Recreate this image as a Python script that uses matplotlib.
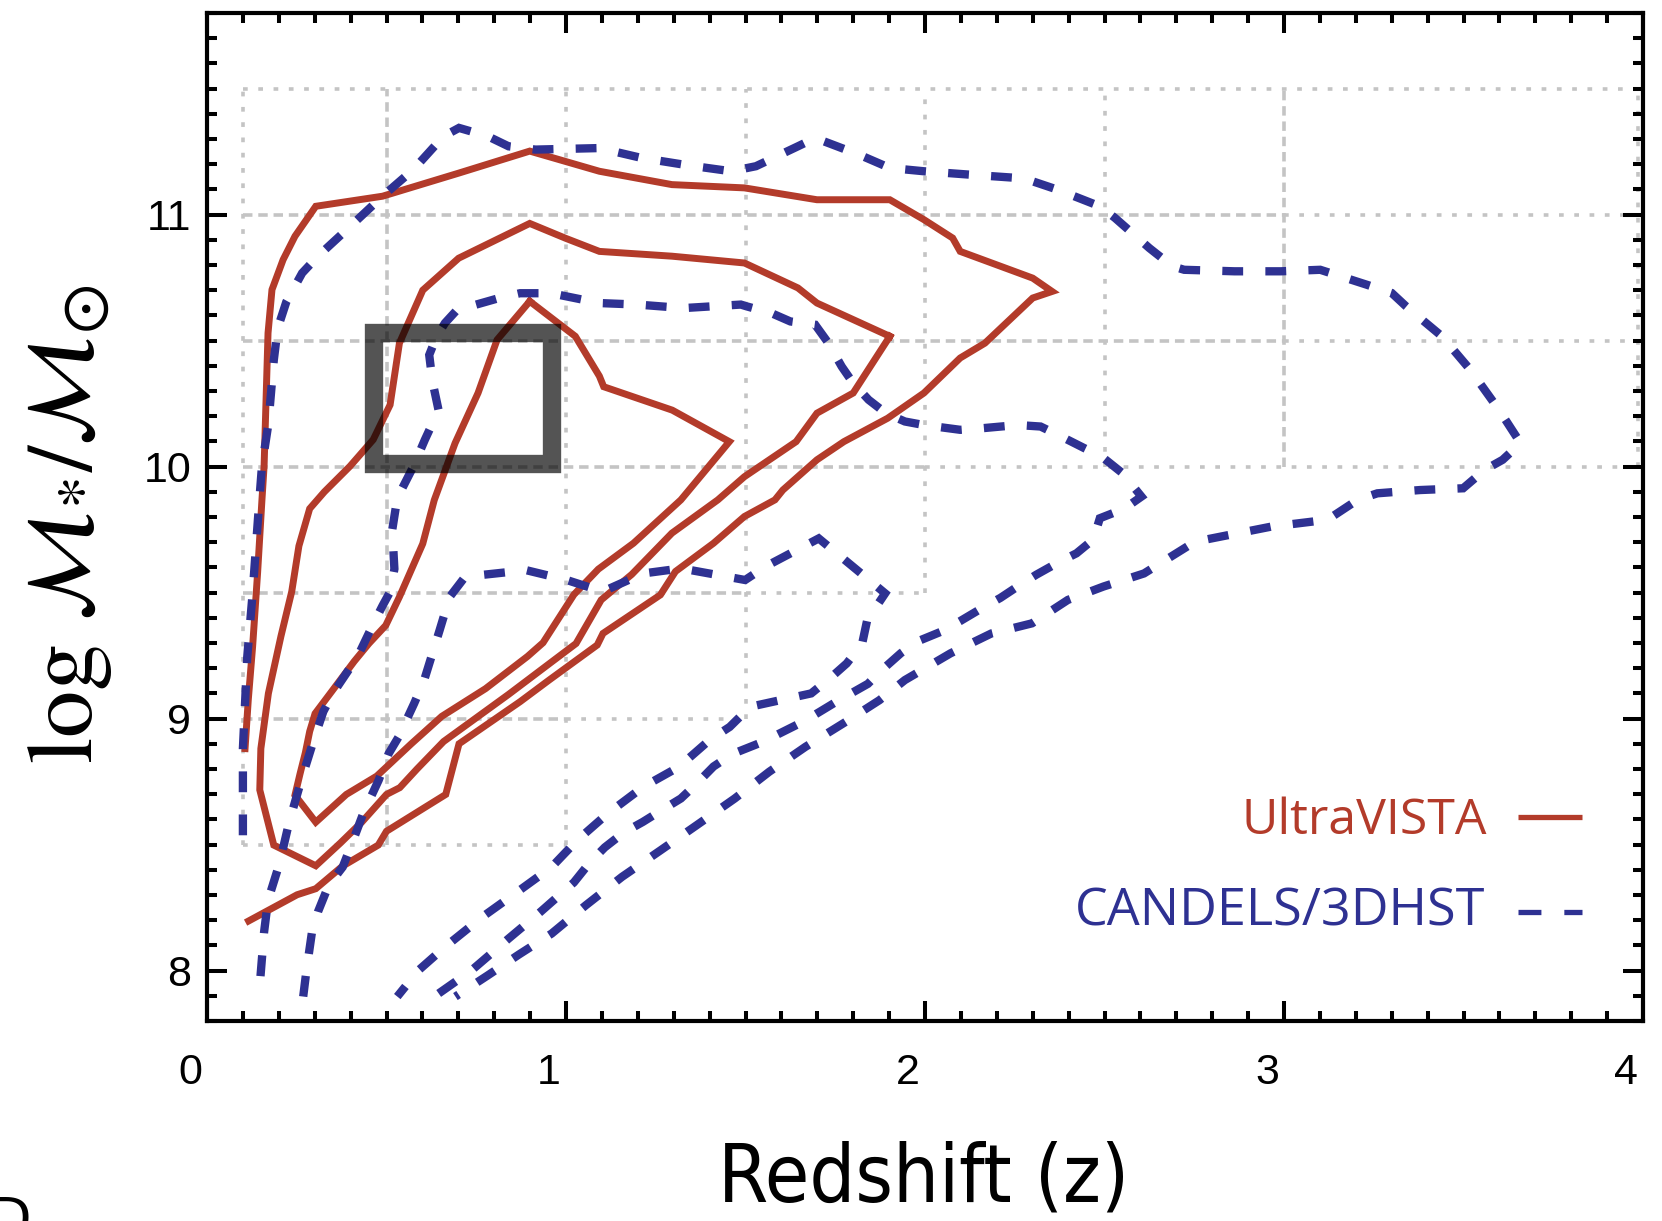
import matplotlib
matplotlib.use("Agg")
import matplotlib.pyplot as plt
from matplotlib.patches import Rectangle
from matplotlib.transforms import ScaledTranslation

plt.rcParams['mathtext.fontset'] = 'stix'
plt.rcParams['lines.scale_dashes'] = False

RED = '#B33B2A'
BLUE = '#2E3192'
GRID = '#c4c4c4'

# UltraVISTA contours (solid red)
uv_out_z = [0.106, 0.115, 0.127, 0.141, 0.153, 0.159, 0.170, 0.181, 0.212, 0.245, 0.303, 0.489, 0.702,
            0.899, 1.093, 1.295, 1.497, 1.699, 1.902, 1.997, 2.077, 2.098, 2.300, 2.354, 2.300, 2.167,
            2.098, 1.997, 1.896, 1.774, 1.699, 1.604, 1.582, 1.497, 1.411, 1.305, 1.263, 1.103, 1.087,
            0.953, 0.872, 0.702, 0.665, 0.500, 0.477, 0.377, 0.303, 0.251, 0.116]
uv_out_m = [8.881, 9.075, 9.285, 9.580, 9.867, 10.001, 10.530, 10.702, 10.821, 10.914, 11.033, 11.073,
            11.165, 11.252, 11.172, 11.119, 11.106, 11.059, 11.059, 10.980, 10.907, 10.854, 10.748,
            10.695, 10.669, 10.490, 10.431, 10.292, 10.192, 10.099, 10.027, 9.907, 9.868, 9.802, 9.696,
            9.584, 9.491, 9.338, 9.292, 9.153, 9.067, 8.900, 8.699, 8.553, 8.498, 8.414, 8.325, 8.301,
            8.197]

uv_mid_z = [1.902, 1.800, 1.699, 1.641, 1.497, 1.423, 1.295, 1.183, 1.098, 1.028, 0.840, 0.659, 0.585,
            0.537, 0.500, 0.431, 0.372, 0.303, 0.186, 0.147, 0.150, 0.171, 0.206, 0.236, 0.256, 0.286,
            0.327, 0.398, 0.463, 0.510, 0.536, 0.601, 0.701, 0.899, 0.999, 1.093, 1.295, 1.497, 1.646,
            1.699, 1.902]
uv_mid_m = [10.517, 10.292, 10.212, 10.099, 9.960, 9.868, 9.736, 9.572, 9.471, 9.298, 9.096, 8.909,
            8.800, 8.726, 8.699, 8.589, 8.507, 8.416, 8.498, 8.717, 8.881, 9.100, 9.327, 9.504, 9.685,
            9.833, 9.900, 10.001, 10.107, 10.245, 10.490, 10.700, 10.827, 10.965, 10.906, 10.854,
            10.835, 10.808, 10.709, 10.649, 10.517]

uv_in_z = [0.899, 1.026, 1.093, 1.105, 1.296, 1.455, 1.320, 1.188, 1.090, 1.022, 0.936, 0.893, 0.776,
           0.654, 0.569, 0.473, 0.388, 0.303, 0.245, 0.259, 0.274, 0.286, 0.301, 0.348, 0.410, 0.451,
           0.498, 0.536, 0.601, 0.633, 0.691, 0.755, 0.808, 0.899]
uv_in_m = [10.656, 10.517, 10.359, 10.317, 10.224, 10.099, 9.868, 9.696, 9.593, 9.492, 9.301, 9.247,
           9.119, 9.009, 8.900, 8.772, 8.699, 8.589, 8.696, 8.780, 8.865, 8.949, 9.020, 9.109, 9.227,
           9.298, 9.370, 9.483, 9.694, 9.867, 10.093, 10.292, 10.503, 10.656]

# CANDELS/3DHST contours (dashed blue)
cd_out_z = [0.100, 0.100, 0.112, 0.127, 0.144, 0.153, 0.171, 0.186, 0.197, 0.221, 0.265, 0.309, 0.389,
            0.489, 0.575, 0.659, 0.702, 0.782, 0.840, 0.915, 1.093, 1.210, 1.338, 1.460, 1.529, 1.646,
            1.694, 1.816, 1.902, 1.997, 2.120, 2.252, 2.300, 2.369, 2.487, 2.529, 2.625, 2.689, 2.722,
            2.862, 2.991, 3.101, 3.230, 3.300, 3.340, 3.440, 3.519, 3.599, 3.659, 3.609, 3.559, 3.499,
            3.379, 3.260, 3.205, 3.121, 2.965, 2.752, 2.610, 2.497, 2.398, 2.298, 2.185, 2.071, 1.944,
            1.873, 1.779, 1.667, 1.566, 1.470, 1.364, 1.263, 1.156, 1.055, 0.960, 0.869, 0.781, 0.692]
cd_out_m = [8.537, 8.881, 9.243, 9.496, 9.833, 10.001, 10.170, 10.422, 10.549, 10.654, 10.768, 10.835,
            10.940, 11.073, 11.179, 11.311, 11.344, 11.311, 11.271, 11.258, 11.264, 11.225, 11.196,
            11.172, 11.192, 11.271, 11.304, 11.238, 11.185, 11.172, 11.159, 11.146, 11.132, 11.099,
            11.033, 10.987, 10.867, 10.795, 10.781, 10.775, 10.775, 10.781, 10.722, 10.689, 10.636,
            10.517, 10.384, 10.225, 10.093, 10.027, 9.987, 9.914, 9.907, 9.894, 9.868, 9.789, 9.762,
            9.702, 9.576, 9.524, 9.471, 9.378, 9.338, 9.259, 9.153, 9.073, 8.987, 8.888, 8.789, 8.683,
            8.577, 8.477, 8.372, 8.259, 8.147, 8.064, 7.980, 7.897]

cd_mid_z = [0.149, 0.159, 0.170, 0.202, 0.229, 0.266, 0.298, 0.324, 0.351, 0.420, 0.463, 0.489, 0.510,
            0.522, 0.516, 0.530, 0.575, 0.607, 0.645, 0.628, 0.619, 0.639, 0.663, 0.701, 0.745, 0.819,
            0.872, 0.958, 1.093, 1.199, 1.327, 1.487, 1.503, 1.572, 1.625, 1.694, 1.731, 1.768, 1.800,
            1.843, 1.891, 1.944, 1.997, 2.098, 2.157, 2.258, 2.322, 2.380, 2.444, 2.492, 2.550, 2.603,
            2.555, 2.487, 2.469, 2.422, 2.369, 2.310, 2.263, 2.210, 2.157, 2.098, 2.045, 1.980, 1.933,
            1.880, 1.841, 1.753, 1.665, 1.547, 1.464, 1.411, 1.364, 1.320, 1.267, 1.214, 1.161, 1.108,
            1.067, 1.022, 0.928, 0.840, 0.737, 0.633]
cd_mid_m = [7.978, 8.153, 8.279, 8.425, 8.590, 8.772, 8.918, 9.028, 9.101, 9.247, 9.375, 9.448, 9.503,
            9.594, 9.749, 9.875, 10.001, 10.107, 10.224, 10.338, 10.443, 10.515, 10.570, 10.629,
            10.641, 10.671, 10.688, 10.688, 10.649, 10.643, 10.629, 10.643, 10.636, 10.609, 10.576,
            10.563, 10.490, 10.397, 10.331, 10.265, 10.212, 10.179, 10.165, 10.146, 10.152, 10.165,
            10.159, 10.119, 10.073, 10.040, 9.974, 9.881, 9.833, 9.795, 9.711, 9.656, 9.618, 9.571,
            9.529, 9.479, 9.437, 9.387, 9.345, 9.307, 9.260, 9.193, 9.138, 9.067, 8.991, 8.907, 8.860,
            8.810, 8.742, 8.683, 8.637, 8.590, 8.548, 8.489, 8.430, 8.350, 8.232, 8.127, 8.001, 7.897]

cd_in_z = [0.268, 0.277, 0.292, 0.309, 0.339, 0.378, 0.407, 0.435, 0.478, 0.506, 0.534, 0.577, 0.605,
           0.648, 0.676, 0.719, 0.889, 1.002, 1.102, 1.215, 1.321, 1.499, 1.555, 1.704, 1.811, 1.889,
           1.839, 1.825, 1.782, 1.740, 1.683, 1.513, 1.456, 1.400, 1.314, 1.215, 1.116, 1.031, 0.960,
           0.869, 0.766, 0.663, 0.589, 0.530]
cd_in_m = [7.897, 8.001, 8.149, 8.233, 8.339, 8.411, 8.517, 8.623, 8.755, 8.861, 8.928, 9.060, 9.153,
           9.351, 9.483, 9.563, 9.589, 9.550, 9.504, 9.576, 9.596, 9.550, 9.603, 9.715, 9.589, 9.497,
           9.391, 9.298, 9.219, 9.166, 9.100, 9.047, 8.967, 8.915, 8.808, 8.729, 8.623, 8.517, 8.411,
           8.317, 8.212, 8.094, 8.001, 7.897]

# highlighted bin
box_z = [0.464, 0.960]
box_m = [10.01, 10.53]

# bin grid: (value, start, end, style)
grid_h = [(11.5, 0.1, 3.985, 'dot'),
          (11.0, 0.1, 3.0, 'dash'), (11.0, 3.0, 3.985, 'dot'),
          (10.5, 0.1, 3.0, 'dash'), (10.5, 3.0, 3.985, 'dot'),
          (10.0, 0.1, 2.0, 'dash'), (10.0, 2.0, 3.985, 'dot'),
          (9.5, 0.1, 1.5, 'dash'), (9.5, 1.5, 2.0, 'dot'),
          (9.0, 0.1, 1.0, 'dash'), (9.0, 1.0, 1.5, 'dot'),
          (8.5, 0.1, 1.0, 'dot')]
grid_v = [(0.1, 8.5, 11.5, 'dot'), (0.5, 8.5, 11.5, 'dash'), (1.0, 8.5, 11.5, 'dot'),
          (1.5, 9.0, 11.5, 'dot'), (2.0, 9.5, 11.5, 'dot'), (2.5, 10.0, 11.5, 'dot'),
          (3.0, 10.0, 11.5, 'dash'), (3.985, 10.0, 11.5, 'dot')]
grid_dash = {'dot': (3.4, 7.6), 'dash': (6.8, 4.2)}

x_ticks = [0, 1, 2, 3, 4]
y_ticks = [8, 9, 10, 11]

fig = plt.figure(figsize=(16.62, 12.21), dpi=100)
ax = fig.add_axes([0.12455, 0.1638, 0.86402, 0.82555])

for y, x0, x1, st in grid_h:
    ax.plot([x0, x1], [y, y], color=GRID, lw=2.6, dashes=grid_dash[st],
            dash_capstyle='butt', zorder=1)
for x, y0, y1, st in grid_v:
    ax.plot([x, x], [y0, y1], color=GRID, lw=2.6, dashes=grid_dash[st],
            dash_capstyle='butt', zorder=1)

for zz, mm in [(uv_out_z, uv_out_m), (uv_mid_z, uv_mid_m), (uv_in_z, uv_in_m)]:
    ax.plot(zz, mm, color=RED, lw=5, solid_joinstyle='miter', zorder=3)

for zz, mm in [(cd_out_z, cd_out_m), (cd_mid_z, cd_mid_m), (cd_in_z, cd_in_m)]:
    ax.plot(zz, mm, color=BLUE, lw=6, dashes=(15, 16), dash_capstyle='butt',
            dash_joinstyle='miter', zorder=4)

ax.add_patch(Rectangle((box_z[0], box_m[0]), box_z[1] - box_z[0], box_m[1] - box_m[0],
                       fill=False, edgecolor='black', alpha=0.67, lw=13.2,
                       joinstyle='miter', zorder=5))

# legend drawn by hand
ax.text(0.8917, 0.1855, 'UltraVISTA', transform=ax.transAxes, ha='right', va='baseline',
        color=RED, fontsize=36, family='Open Sans')
ax.text(0.890, 0.0952, 'CANDELS/3DHST', transform=ax.transAxes, ha='right', va='baseline',
        color=BLUE, fontsize=37.5, family='Open Sans')
ax.plot([0.913, 0.9575], [0.2027, 0.2027], transform=ax.transAxes, color=RED, lw=3.8,
        solid_capstyle='butt', clip_on=False)
ax.plot([0.913, 0.9575], [0.108, 0.108], transform=ax.transAxes, color=BLUE, lw=3.8,
        dashes=(16.5, 16.5), dash_capstyle='butt', clip_on=False)

ax.set_xlim(0, 4)
ax.set_ylim(7.8, 11.8)
ax.set_xticks(x_ticks)
ax.set_yticks(y_ticks)
ax.set_xticks([i / 10 for i in range(41)], minor=True)
ax.set_yticks([7.8 + i / 10 for i in range(41)], minor=True)
ax.tick_params(which='both', direction='in', top=True, right=True, width=2.9, color='black')
ax.tick_params(which='major', length=14.4)
ax.tick_params(which='minor', length=7.2)
ax.tick_params(axis='x', which='major', pad=23, labelsize=31)
ax.tick_params(axis='y', which='major', pad=11.5, labelsize=31)
for lab in ax.get_xticklabels() + ax.get_yticklabels():
    lab.set_family('Liberation Sans')
shift = ScaledTranslation(-0.17, 0, fig.dpi_scale_trans)
for lab in ax.get_xticklabels():
    lab.set_transform(lab.get_transform() + shift)
for sp in ax.spines.values():
    sp.set_linewidth(3.0)

fig.text(0.556, 0.0158, 'Redshift (z)', ha='center', va='baseline', fontsize=58,
         family='DejaVu Sans', stretch='condensed')
fig.text(0.0409, 0.5703, r'$\log\,\mathcal{M}_{*}/\mathcal{M}_{\odot}$', rotation=90,
         ha='center', va='center', fontsize=68)
fig.text(0.0187, 0.0213, 'D', ha='right', va='top', fontsize=40, family='DejaVu Sans')

fig.savefig('out.png', dpi=100)
